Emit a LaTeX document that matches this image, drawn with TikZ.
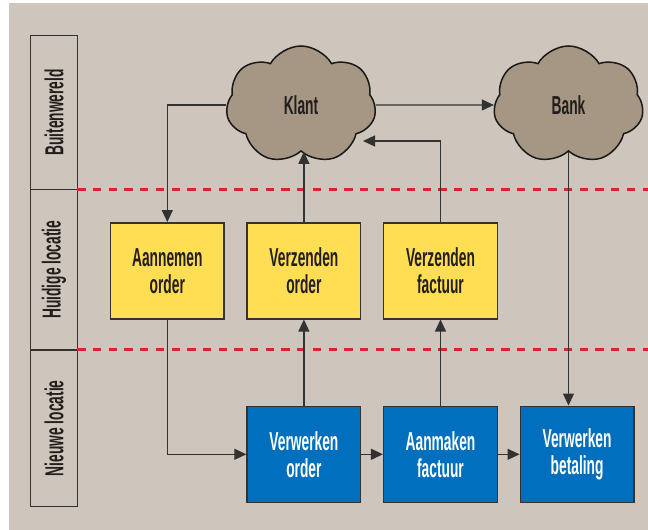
\documentclass[tikz,border=0pt]{standalone}
\usepackage{fontspec}
\usepackage{graphicx}
\usepackage{tikz}
\usetikzlibrary{positioning, shapes.symbols, arrows.meta}
\newfontfamily\condfont[FakeStretch=0.53]{Liberation Sans}
\newcommand\taskfont{\condfont\bfseries\fontsize{26}{27}\selectfont}
\definecolor{bgbeige}{RGB}{206,197,188}
\definecolor{cloudbrown}{RGB}{166,150,132}
\definecolor{boxyellow}{RGB}{255,222,84}
\definecolor{boxblue}{RGB}{0,111,190}
\definecolor{laneRed}{RGB}{216,36,48}
\definecolor{linegray}{RGB}{50,50,50}
\definecolor{textdark}{RGB}{34,30,28}
\tikzstyle{lane}=[rectangle, draw=linegray, line width=1.2pt, outer sep=0pt, minimum width=46.6pt, inner sep=0pt, font=\taskfont, text=textdark]
\tikzstyle{task}=[rectangle, draw=linegray, line width=1.5pt, minimum width=113.6pt, minimum height=96pt, align=center, font=\taskfont]
\tikzstyle{todo}=[task, fill=boxyellow, text=textdark]
\tikzstyle{newtask}=[task, fill=boxblue, text=white]
\tikzstyle{party}=[cloud, cloud puffs=7, cloud puff arc=120, cloud ignores aspect, draw=black!90, line width=1.5pt, fill=cloudbrown, minimum width=150pt, minimum height=118pt, font=\taskfont, text=textdark]
\tikzstyle{flow}=[-{Triangle[length=12pt,width=11pt]}, draw=linegray, line width=1.2pt]
\tikzstyle{border}=[draw=laneRed, line width=3pt, dash pattern=on 8.3pt off 7.4pt]

\begin{document}
\begin{tikzpicture}[x=1pt, y=1pt]
    \useasboundingbox (0,0) rectangle (648,530);
    \fill[bgbeige] (9,0) rectangle (648,527);
    \coordinate (east) at (648,0);

    %Swimlanes on the left
    \node[lane, minimum height=154pt] (outside) at (54,417.5) {\rotatebox{90}{Buitenwereld}};
    \node[lane, minimum height=160.5pt, below = 0pt of outside] (current) {\rotatebox{90}{Huidige locatie}};
    \node[lane, minimum height=156.7pt, below = 0pt of current] (newsite) {\rotatebox{90}{Nieuwe locatie}};
    \draw[border] (outside.south east) -- (outside.south east -| east);
    \draw[border] (current.south east) -- (current.south east -| east);

    %Outside parties
    \node[party] (klant) at (301,425) {Klant};
    \node[party] (bank) at (568.5,425) {Bank};

    %Tasks at the current site
    \node[todo] (aannemen) at (167.3,259.2) {Aannemen\\order};
    \node[todo, right = 21.5pt of aannemen] (vzorder) {Verzenden\\order};
    \node[todo, right = 21.5pt of vzorder] (vzfactuur) {Verzenden\\factuur};

    %Tasks at the new site
    \node[newtask, below = 86pt of vzorder] (vworder) {Verwerken\\order};
    \node[newtask, right = 21.5pt of vworder] (aanmaken) {Aanmaken\\factuur};
    \node[newtask, right = 21.5pt of aanmaken] (betaling) {Verwerken\\betaling};

    %Flows
    \draw[flow] (klant.west) -| (aannemen.north);
    \draw[flow] (klant.east) -- (bank.west);
    \draw[flow] (vzorder.north) -- (vzorder.north |- klant.south);
    \draw[flow] (vzfactuur.north) |- ([shift={(62pt,-36pt)}]klant.center);
    \draw[flow] (bank.south) -- (bank.south |- betaling.north);
    \draw[flow] (aannemen.south) |- (vworder.west);
    \draw[flow] (vworder.north) -- (vzorder.south);
    \draw[flow] (aanmaken.north) -- (vzfactuur.south);
    \draw[flow] (vworder.east) -- (aanmaken.west);
    \draw[flow] (aanmaken.east) -- (betaling.west);
\end{tikzpicture}
\end{document}
